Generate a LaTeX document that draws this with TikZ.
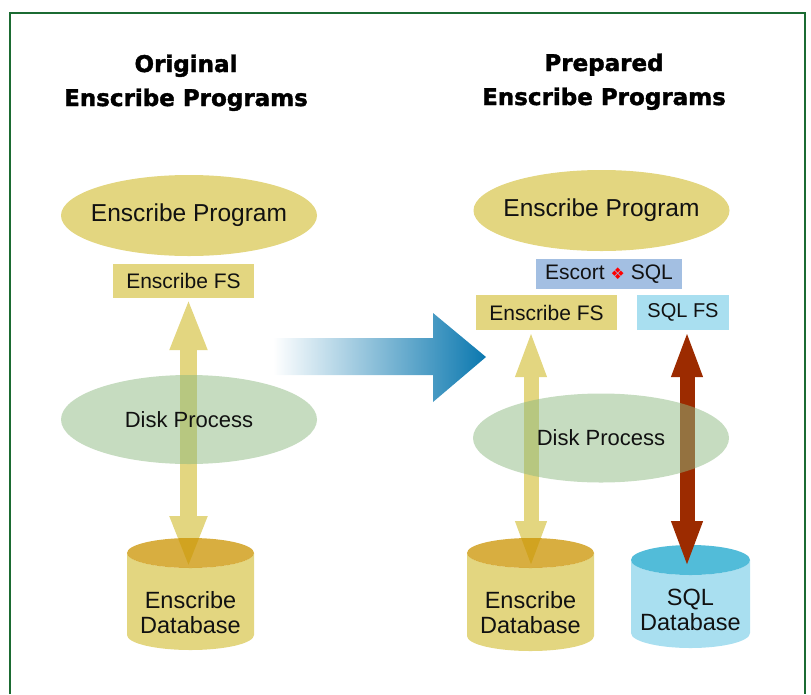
\documentclass[tikz,border=0pt]{standalone}
\usepackage{fontspec}
\setmainfont{Liberation Sans}
\newfontfamily\titlefont[BoldFeatures={FakeBold=1.6}]{DejaVu Sans}
\newfontfamily\symfont{DejaVu Sans}
\usetikzlibrary{shapes.geometric,arrows.meta}
\definecolor{khaki}{RGB}{227,214,128}
\definecolor{gold}{RGB}{203,147,0}
\definecolor{diskgreen}{RGB}{141,185,129}
\definecolor{escblue}{RGB}{163,191,226}
\definecolor{sqlcyan}{RGB}{169,223,240}
\definecolor{sqltop}{RGB}{82,188,217}
\definecolor{rust}{RGB}{156,43,0}
\definecolor{flowblue}{RGB}{11,120,175}
\definecolor{framegreen}{RGB}{27,107,50}
\definecolor{ink}{RGB}{17,17,17}
\tikzset{
  title/.style={font=\titlefont\bfseries\fontsize{23}{28}\selectfont, anchor=base, inner sep=0pt, text=black},
  prog/.style={ellipse, fill=khaki, minimum width=256pt, minimum height=81pt, inner sep=0pt,
    font=\fontsize{24.5}{28}\selectfont, text=ink},
  disk/.style={ellipse, fill=diskgreen, fill opacity=0.5, text opacity=1, minimum width=256pt,
    minimum height=89pt, inner sep=0pt, font=\fontsize{22}{26}\selectfont, text=ink},
  fsbox/.style={rectangle, inner sep=0pt, minimum height=34pt, font=\fontsize{21}{24}\selectfont, text=ink},
  dbtext/.style={align=center, inner sep=0pt, font=\fontsize{23.5}{25.5}\selectfont, text=ink},
  yarrowbig/.style={draw=khaki, line width=17pt,
    {Triangle[width=34pt,length=52pt]}-{Triangle[width=34pt,length=52pt]}},
  yarrow/.style={draw=khaki, line width=15pt,
    {Triangle[width=28pt,length=47pt]}-{Triangle[width=28pt,length=47pt]}},
  rarrow/.style={draw=rust, line width=15pt,
    {Triangle[width=28pt,length=47pt]}-{Triangle[width=28pt,length=47pt]}},
}
\begin{document}
\begin{tikzpicture}[x=1pt,y=-1pt]
\useasboundingbox (0,0) rectangle (811,694);
% frame
\draw[framegreen, line width=2pt] (10,694) -- (10,13) -- (805,13) -- (805,694);
% titles
\node[title] (t1a) at (186,72) {Original};
\node[title] (t1b) at (186,106) {Enscribe Programs};
\node[title] (t2a) at (604,71) {Prepared};
\node[title] (t2b) at (604,105) {Enscribe Programs};
% program ellipses
\node[prog] (prog1) at (189,215.5) {\makebox[0pt]{\raisebox{-2pt}{Enscribe Program}}};
\node[prog] (prog2) at (601.5,210.5) {\makebox[0pt]{\raisebox{-2pt}{Enscribe Program}}};
% boxes
\node[fsbox, fill=khaki, minimum width=141pt] (efs1) at (183.5,281) {Enscribe FS};
\node[fsbox, fill=escblue, minimum width=146pt, minimum height=30pt] (esc) at (609,274)
  {Escort {\symfont\color{red}\fontsize{16}{16}\selectfont ❖} SQL};
\node[fsbox, fill=khaki, minimum width=141pt, minimum height=35pt] (efs2) at (546.5,312.5) {Enscribe FS};
\node[fsbox, fill=sqlcyan, minimum width=92pt, minimum height=35pt, font=\fontsize{20}{24}\selectfont] (sfs) at (683,312.5) {SQL FS};
% gradient flow arrow
\shade[left color=white, right color=flowblue]
  (273,338) -- (433,338) -- (433,313) -- (486,357) -- (433,402) -- (433,375) -- (273,375) -- cycle;
% cylinder bodies
\fill[khaki] (127,553) -- (127,635) arc[start angle=180,end angle=360,x radius=63.5pt,y radius=15pt]
  -- (254,553) arc[start angle=0,end angle=-180,x radius=63.5pt,y radius=15pt] -- cycle;
\fill[khaki] (467,553) -- (467,636) arc[start angle=180,end angle=360,x radius=63.5pt,y radius=15pt]
  -- (594,553) arc[start angle=0,end angle=-180,x radius=63.5pt,y radius=15pt] -- cycle;
\fill[sqlcyan] (631,560) -- (631,633) arc[start angle=180,end angle=360,x radius=59.5pt,y radius=15pt]
  -- (750,560) arc[start angle=0,end angle=-180,x radius=59.5pt,y radius=15pt] -- cycle;
\fill[sqltop] (690.5,560) ellipse [x radius=59.5pt, y radius=15pt];
% arrow end points
\coordinate (tip1) at (188.5,568);
\coordinate (tip2) at (531,568);
\coordinate (tip3) at (687,568);
% arrows
\draw[yarrowbig] (efs1.south -| tip1) -- (tip1);
\draw[yarrow] (efs2.south -| tip2) -- (tip2);
\draw[rarrow] (sfs.south -| tip3) -- (tip3);
% cylinder tops
\fill[gold, fill opacity=0.75] (190.5,553) ellipse [x radius=63.5pt, y radius=15pt];
\fill[gold, fill opacity=0.75] (530.5,553) ellipse [x radius=63.5pt, y radius=15pt];
% disk process
\node[disk] (disk1) at (189,419.5) {\makebox[0pt]{Disk Process}};
\node[disk] (disk2) at (601,438) {\makebox[0pt]{Disk Process}};
% database texts
\node[dbtext] (db1) at (190.5,612.5) {Enscribe\\Database};
\node[dbtext] (db2) at (530.5,612.5) {Enscribe\\Database};
\node[dbtext] (db3) at (690.5,610) {SQL\\Database};
\end{tikzpicture}
\end{document}
